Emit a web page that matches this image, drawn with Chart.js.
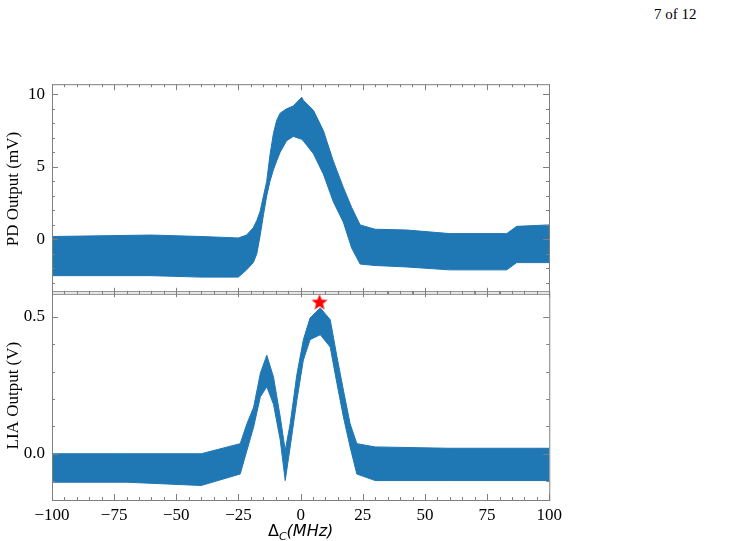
<!DOCTYPE html>
<html>
<head>
<meta charset="utf-8">
<script src="https://cdn.jsdelivr.net/npm/chart.js@4/dist/chart.umd.min.js"></script>
<style>
  body { margin: 0; width: 734px; height: 541px; background: #fff; position: relative; overflow: hidden; }
  canvas { position: absolute; left: 0; }
  #page { position: absolute; left: 654px; top: 6px; font: 15px "Liberation Serif", serif; }
</style>
</head>
<body>
<div id="page">7 of 12</div>
<canvas id="top" style="top:67px"></canvas>
<canvas id="bot" style="top:274px"></canvas>
<script>
// PD output envelope (mV)
const pdFreq  = [-100, -60, -40, -25, -21.7, -19, -17.6, -16.3, -14.9, -13.6, -12.3, -10.9, -9.6, -8.2, -5.6, -2.9, 0.5, 1.1, 5.2, 9.2, 13.2, 17.2, 20.6, 24, 30, 42.7, 60, 83, 87, 100];
const pdUpper = [0.2, 0.3, 0.2, 0.1, 0.3, 0.8, 1.3, 1.9, 3.0, 4.0, 5.8, 7.3, 8.2, 8.7, 9.0, 9.2, 9.8, 9.6, 8.9, 7.5, 5.4, 3.6, 2.2, 1.0, 0.7, 0.65, 0.4, 0.4, 0.9, 1.0];
const pdLower = [-2.5, -2.5, -2.6, -2.6, -2.1, -1.6, -1.0, 0.2, 1.7, 3.0, 4.0, 4.8, 5.4, 6.0, 6.8, 7.1, 6.9, 6.8, 5.9, 4.5, 2.6, 1.2, -0.6, -1.7, -1.8, -1.9, -2.1, -2.1, -1.6, -1.6];

// LIA output envelope (V)
const liaFreq  = [-100, -70, -40, -24.3, -21.6, -18.9, -16.2, -13.6, -10.9, -8.2, -6.2, -4.2, -1.5, 1.1, 3.8, 7.9, 11.9, 14.6, 17.2, 19.9, 22.6, 30, 60, 100];
const liaUpper = [0.0, 0.0, 0.0, 0.037, 0.11, 0.17, 0.294, 0.36, 0.28, 0.135, 0.012, 0.11, 0.29, 0.417, 0.496, 0.533, 0.49, 0.355, 0.233, 0.11, 0.037, 0.025, 0.02, 0.02];
const liaLower = [-0.104, -0.104, -0.116, -0.074, 0.012, 0.098, 0.208, 0.245, 0.18, 0.05, -0.098, 0.025, 0.196, 0.343, 0.417, 0.435, 0.39, 0.257, 0.135, 0.025, -0.074, -0.098, -0.098, -0.098];

const peakMarker = [{ x: 7.6, y: 0.554 }];
const xTicks = [-100, -75, -50, -25, 0, 25, 50, 75, 100];

const blue = '#1f77b4';
const serif = '"Liberation Serif", "DejaVu Serif", serif';
const pts = (xs, ys) => xs.map((x, i) => ({ x, y: ys[i] }));

function starImage() {
  const c = document.createElement('canvas');
  c.width = 18; c.height = 18;
  const g = c.getContext('2d');
  g.beginPath();
  for (let i = 0; i < 10; i++) {
    const r = i % 2 ? 3.6 : 8.5;
    const a = -Math.PI / 2 + i * Math.PI / 5;
    g.lineTo(9 + r * Math.cos(a), 9.5 + r * Math.sin(a));
  }
  g.closePath();
  g.fillStyle = 'red';
  g.fill();
  return c;
}

// frame plus inward major/minor ticks on all four sides
function frameTicks(yMinorStep) {
  return {
    id: 'frameTicks',
    afterDraw(chart) {
      const { ctx, chartArea: a, scales } = chart;
      ctx.save();
      ctx.strokeStyle = '#7f7f7f';
      ctx.lineWidth = 1;
      ctx.strokeRect(a.left + 0.5, a.top + 0.5, a.right - a.left, a.bottom - a.top);
      ctx.beginPath();
      for (let v = -100; v <= 100; v += 5) {
        const px = Math.round(scales.x.getPixelForValue(v)) + 0.5;
        const len = v % 25 === 0 ? 6 : 3;
        ctx.moveTo(px, a.bottom); ctx.lineTo(px, a.bottom - len);
        ctx.moveTo(px, a.top); ctx.lineTo(px, a.top + len);
      }
      const y = scales.y;
      const start = Math.ceil(y.min / yMinorStep);
      for (let k = start; k * yMinorStep <= y.max; k++) {
        const v = k * yMinorStep;
        const py = Math.round(y.getPixelForValue(v)) + 0.5;
        const major = Math.abs(v / (yMinorStep * 5) - Math.round(v / (yMinorStep * 5))) < 1e-6;
        const len = major ? 6 : 3;
        ctx.moveTo(a.left, py); ctx.lineTo(a.left + len, py);
        ctx.moveTo(a.right, py); ctx.lineTo(a.right - len, py);
      }
      ctx.stroke();
      ctx.restore();
    }
  };
}

function band(xs, up, lo) {
  return [
    { data: pts(xs, up), borderColor: blue, borderWidth: 1, pointRadius: 0, fill: false, tension: 0 },
    { data: pts(xs, lo), borderColor: blue, borderWidth: 1, pointRadius: 0, fill: '-1', backgroundColor: blue, tension: 0 }
  ];
}

function yAxis(min, max, ticks, title, fmt) {
  return {
    type: 'linear', min, max,
    afterFit: s => { s.width = 52; },
    afterBuildTicks: s => { s.ticks = ticks.map(v => ({ value: v })); },
    grid: { display: false, drawTicks: false },
    border: { display: false },
    ticks: { color: '#000', font: { family: serif, size: 17 }, padding: 7, callback: fmt },
    title: { display: true, text: title, color: '#000', font: { family: serif, size: 17 }, padding: { top: 3, bottom: 0 } }
  };
}

const common = {
  responsive: false,
  animation: false,
  plugins: { legend: { display: false }, tooltip: { enabled: false } },
};

const topCanvas = document.getElementById('top');
topCanvas.width = 560; topCanvas.height = 244;
new Chart(topCanvas, {
  type: 'line',
  data: { datasets: band(pdFreq, pdUpper, pdLower) },
  options: {
    ...common,
    layout: { padding: { left: 0, right: 11, top: 0, bottom: 0 } },
    scales: {
      x: { type: 'linear', min: -100, max: 100, display: false },
      y: yAxis(-3.75, 10.7, [0, 5, 10], 'PD Output (mV)', v => v)
    }
  },
  plugins: [frameTicks(1)]
});

const xTitle = {
  id: 'xTitle',
  afterDraw(chart) {
    const { ctx, chartArea: a } = chart;
    const cx = (a.left + a.right) / 2;
    ctx.save();
    ctx.fillStyle = '#000';
    ctx.textBaseline = 'alphabetic';
    const big = '16px "DejaVu Sans", sans-serif';
    const it = 'italic 16px "DejaVu Sans", sans-serif';
    const sub = 'italic 11px "DejaVu Sans", sans-serif';
    const parts = [['Δ', big, 0], ['C', sub, 4], ['(MHz)', it, 0]];
    let w = 0;
    parts.forEach(p => { ctx.font = p[1]; w += ctx.measureText(p[0]).width; });
    let x = cx - w / 2;
    const base = a.bottom + 36;
    parts.forEach(p => { ctx.font = p[1]; ctx.fillText(p[0], x, base + p[2]); x += ctx.measureText(p[0]).width; });
    ctx.restore();
  }
};

const botCanvas = document.getElementById('bot');
botCanvas.width = 567; botCanvas.height = 267;
new Chart(botCanvas, {
  type: 'line',
  data: {
    datasets: [
      ...band(liaFreq, liaUpper, liaLower),
      { data: peakMarker, showLine: false, pointStyle: starImage(), pointRadius: 9 }
    ]
  },
  options: {
    ...common,
    clip: false,
    layout: { padding: { left: 0, right: 3, top: 0, bottom: 0 } },
    scales: {
      x: {
        type: 'linear', min: -100, max: 100,
        afterFit: s => { s.height = 41; },
        afterBuildTicks: s => { s.ticks = xTicks.map(v => ({ value: v })); },
        grid: { display: false, drawTicks: false },
        border: { display: false },
        ticks: { color: '#000', font: { family: serif, size: 17 }, padding: 5, maxRotation: 0,
                 callback: v => String(v).replace('-', '\u2212') }
      },
      y: yAxis(-0.169, 0.594, [0, 0.5], 'LIA Output (V)', v => v.toFixed(1))
    }
  },
  plugins: [frameTicks(0.1), xTitle]
});
</script>
</body>
</html>
